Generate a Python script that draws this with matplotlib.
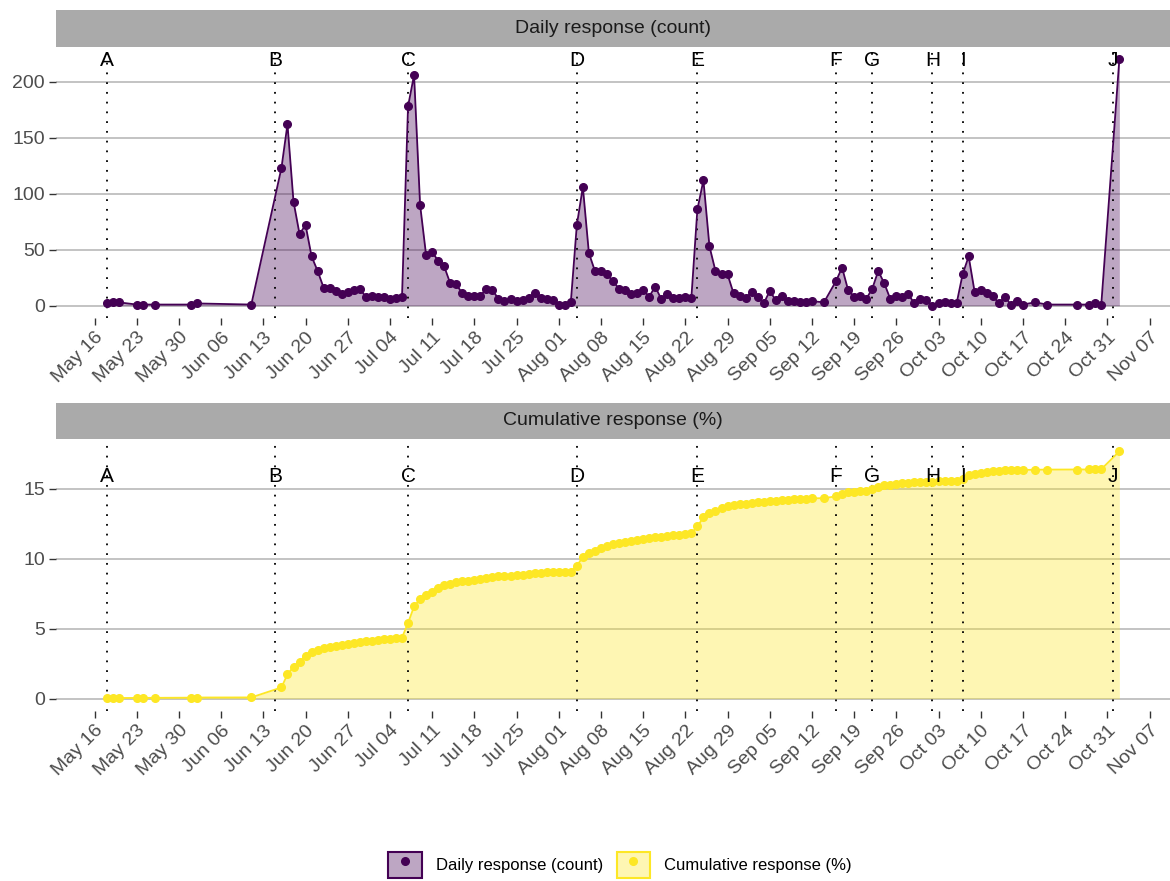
import numpy as np
import pandas as pd
import matplotlib
matplotlib.use("Agg")
import matplotlib.pyplot as plt
import matplotlib.dates as mdates
from matplotlib.patches import Patch
from matplotlib.lines import Line2D
from matplotlib.colors import to_rgba

plt.rcParams['font.family'] = ['Liberation Sans', 'DejaVu Sans']

# daily responses, one entry per calendar day from May 18 (None = no record that day)
first_day = "2021-05-18"
daily_counts = [
    2, 3, 3, None, None, 1, 1,
    None, 1, None, None, None, None, None,
    1, 2, None, None, None, None, None,
    None, None, None, 1, None, None, None,
    None, 123, 162, 93, 64, 72, 44,
    31, 16, 16, 13, 10, 12, 14,
    15, 8, 9, 8, 8, 6, 7,
    8, 178, 206, 90, 45, 48, 40,
    35, 20, 19, 11, 9, 9, 9,
    15, 14, 6, 4, 6, 4, 5,
    7, 11, 7, 6, 5, 1, 1,
    3, 72, 106, 47, 31, 31, 28,
    22, 15, 14, 10, 11, 14, 8,
    17, 6, 10, 7, 7, 8, 7,
    86, 112, 53, 31, 28, 28, 11,
    9, 7, 12, 8, 2, 13, 5,
    9, 4, 4, 3, 3, 4, None,
    3, None, 22, 34, 14, 8, 9,
    6, 15, 31, 20, 6, 9, 8,
    10, 2, 6, 5, 0, 2, 3,
    2, 2, 28, 44, 12, 14, 11,
    9, 2, 8, 1, 4, 1, None,
    3, None, 1, None, None, None, None,
    1, None, 1, 2, 1, None, None,
    220,
]
eligible_total = 17254  # denominator for the cumulative percentage

event_labels = ["A", "B", "C", "D", "E", "F", "G", "H", "I", "J"]
event_dates = ["2021-05-18", "2021-06-15", "2021-07-07", "2021-08-04", "2021-08-24",
               "2021-09-16", "2021-09-22", "2021-10-02", "2021-10-07", "2021-11-01"]
label_heights = [219, 15.9]

panel_titles = ["Daily response (count)", "Cumulative response (%)"]
panel_yticks = [[0, 50, 100, 150, 200], [0, 5, 10, 15]]

# build the series
all_days = pd.date_range(first_day, periods=len(daily_counts), freq="D")
s = pd.Series(daily_counts, index=all_days, dtype=float).dropna()
dates = s.index
daily = s.values
cumulative = np.cumsum(daily) / eligible_total * 100
events = pd.to_datetime(event_dates)

purple = "#440154"
yellow = "#FDE725"

W, H = 1170, 881
fig = plt.figure(figsize=(W / 100, H / 100), dpi=100)


def px_rect(x0, y0, x1, y1):
    return [x0 / W, 1 - y1 / H, (x1 - x0) / W, (y1 - y0) / H]


ax1 = fig.add_axes(px_rect(56, 47, 1170, 318))
st1 = fig.add_axes(px_rect(56, 10, 1170, 47))
ax2 = fig.add_axes(px_rect(56, 439, 1170, 711))
st2 = fig.add_axes(px_rect(56, 403, 1170, 439))

xnum = mdates.date2num(dates)
xr = xnum.max() - xnum.min()
xlim = (xnum.min() - 0.05 * xr, xnum.max() + 0.05 * xr)
week_ticks = pd.date_range("2021-05-16", "2021-11-07", freq="7D")

for ax, st, y, col, title, yt, ly in zip(
        [ax1, ax2], [st1, st2], [daily, cumulative], [purple, yellow],
        panel_titles, panel_yticks, label_heights):
    ax.fill_between(dates, y, 0, color=col, alpha=0.35, lw=0, zorder=2)
    ax.plot(dates, y, color=col, lw=1.3, marker='o', ms=5.5, zorder=4)
    for d, lab in zip(events, event_labels):
        ax.axvline(d, color='black', ls=(0, (1, 4.4)), lw=1.3, zorder=3)
        ax.text(d, ly, lab, ha='center', va='center', fontsize=15, color='black', zorder=5)

    yr = y.max() - 0
    ax.set_ylim(-0.05 * yr, y.max() + 0.05 * yr)
    ax.set_xlim(xlim)
    ax.set_yticks(yt)
    ax.set_xticks(week_ticks)
    ax.xaxis.set_major_formatter(mdates.DateFormatter("%b %d"))
    plt.setp(ax.get_xticklabels(), rotation=45, ha='right', rotation_mode='anchor')
    ax.tick_params(axis='both', length=5, width=1, color='#333333',
                   labelcolor='#4D4D4D', labelsize=14, pad=3)
    ax.yaxis.grid(True, color='#BEBEBE', lw=1.3)
    ax.xaxis.grid(False)
    ax.set_axisbelow(True)
    for sp in ax.spines.values():
        sp.set_visible(False)

    st.set_facecolor('#AAAAAA')
    st.set_xticks([])
    st.set_yticks([])
    for sp in st.spines.values():
        sp.set_visible(False)
    st.text(0.5, 0.5, title, ha='center', va='center', fontsize=14,
            color='#1A1A1A', transform=st.transAxes)

handles = [
    (Patch(facecolor=to_rgba(purple, 0.35), edgecolor=purple, lw=1.5),
     Line2D([], [], color=purple, marker='o', ls='', ms=5.5)),
    (Patch(facecolor=to_rgba(yellow, 0.35), edgecolor=yellow, lw=1.5),
     Line2D([], [], color=yellow, marker='o', ls='', ms=5.5)),
]
fig.legend(handles, panel_titles, loc='center', bbox_to_anchor=(0.53, 0.018), ncol=2,
           frameon=False, fontsize=12, handlelength=2.0, handleheight=2.0,
           handletextpad=0.85, columnspacing=0.8)

fig.savefig("out.png", dpi=100)
